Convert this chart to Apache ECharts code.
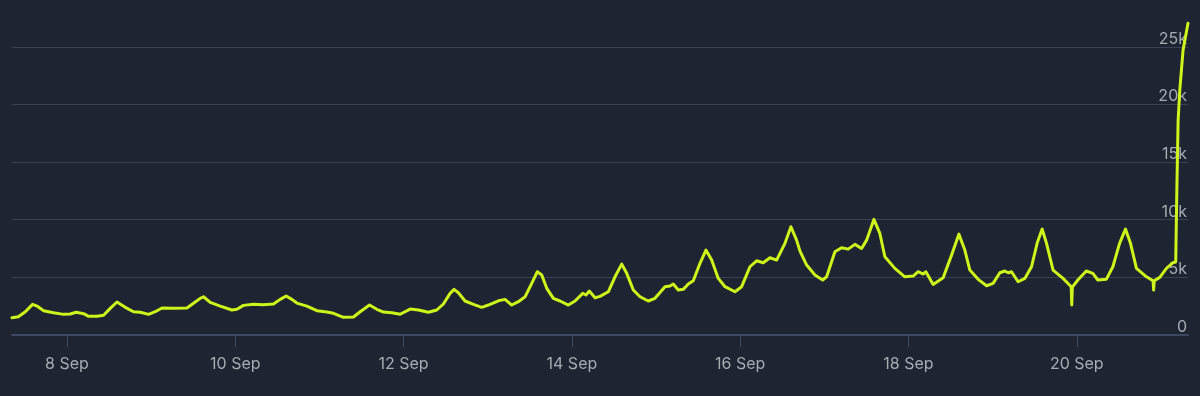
<!DOCTYPE html>
<html>
<head>
<meta charset="utf-8">
<script src="https://cdn.jsdelivr.net/npm/echarts@6/dist/echarts.min.js"></script>
<style>
html,body{margin:0;padding:0;background:#1e2432;}
#c{width:1200px;height:396px;}
</style>
</head>
<body>
<div id="c"></div>
<script>
// Timestamps (Sep 2024, "DD HH:MM") and player counts
const times = [
'07 08:19','07 10:07','07 12:07','07 14:11','07 15:27','07 17:20','07 20:11','07 23:02',
'08 00:56','08 02:39','08 04:44','08 06:10','08 08:33','08 10:26','08 12:20','08 14:15','08 16:37','08 18:59','08 20:54','08 23:16',
'09 01:10','09 03:05','09 06:23','09 10:13','09 12:05','09 14:00','09 14:56','09 16:51','09 19:42','09 23:02',
'10 00:28','10 02:20','10 05:11','10 08:02','10 10:53','10 12:48','10 14:31','10 16:08','10 17:34','10 20:25','10 23:16',
'11 02:07','11 04:00','11 06:51','11 09:42','11 11:37','11 14:16','11 16:22','11 18:15','11 20:39','11 23:01',
'12 01:52','12 04:14','12 07:05','12 09:28','12 11:21','12 13:16','12 14:24','12 15:38','12 17:32','12 19:55','12 22:18',
'13 00:11','13 03:02','13 04:56','13 06:51','13 08:44','13 10:39','13 12:33','13 14:09','13 15:24','13 16:50','13 18:43','13 20:37','13 22:59',
'14 00:54','14 03:05','14 04:02','14 04:58','14 06:36','14 08:01','14 10:23','14 12:18','14 14:13','14 15:38','14 17:31','14 19:26','14 21:47','14 23:42',
'15 02:33','15 03:59','15 04:55','15 06:20','15 07:46','15 09:12','15 10:37','15 12:32','15 14:14','15 15:52','15 17:45','15 19:40','15 22:31',
'16 00:25','16 02:47','16 04:41','16 06:34','16 08:29','16 10:23','16 12:46','16 14:28','16 16:05','16 17:02','16 18:57','16 21:19','16 23:31',
'17 00:39','17 03:01','17 04:55','17 06:48','17 08:43','17 10:37','17 12:03','17 14:08','17 15:50','17 17:16','17 20:07','17 22:58',
'18 01:20','18 02:46','18 04:11','18 04:58','18 07:02','18 09:53','18 12:17','18 14:22','18 16:04','18 17:30','18 19:52','18 22:16',
'19 00:08','19 02:03','19 03:28','19 04:25','19 05:23','19 07:16','19 09:11','19 11:05','19 12:41','19 14:07','19 15:22','19 17:14','19 20:05','19 22:24','19 22:34','19 22:44',
'20 00:18','20 02:42','20 04:35','20 06:00','20 08:25','20 10:17','20 12:12','20 13:53','20 15:19','20 17:01','20 19:52','20 21:45','20 21:55','20 22:05','20 23:40',
'21 01:34','21 03:27','21 04:13','21 04:30','21 04:54','21 05:22','21 06:18','21 07:43'
];
const players = [
1500,1590,2020,2660,2510,2110,1930,1790,
1820,1970,1850,1620,1620,1710,2310,2860,2400,2020,1970,1790,
2020,2340,2310,2340,2750,3180,3320,2830,2510,2170,
2230,2570,2660,2630,2690,3090,3380,3090,2770,2510,2110,
1990,1880,1530,1560,2020,2600,2230,1990,1930,1800,
2250,2170,1970,2170,2690,3610,3960,3670,2950,2660,2400,
2600,2970,3090,2600,2890,3320,4480,5490,5200,4050,3180,2950,2600,
2950,3610,3470,3810,3230,3350,3750,5050,6150,5350,3900,3320,2950,3180,
4190,4250,4420,3900,3960,4420,4710,6210,7370,6500,4910,4190,3750,
4190,5920,6440,6270,6700,6500,7950,9390,8230,7300,6070,5200,4770,
5050,7220,7570,7450,7860,7510,8230,10030,8810,6790,5780,5050,
5110,5490,5290,5490,4390,4970,6930,8750,7370,5630,4830,4270,
4480,5400,5550,5400,5490,4620,4910,5920,7950,9190,7950,5630,4910,4190,2600,4150,
4770,5550,5350,4770,4830,5920,7950,9190,7950,5780,5050,4710,3900,4700,5000,
5780,6270,6350,12000,18630,21230,24700,27040
];
const tickDates = ['2024-09-08','2024-09-10','2024-09-12','2024-09-14','2024-09-16','2024-09-18','2024-09-20'];
const yTicks = [0, 5000, 10000, 15000, 20000, 25000];
const monthNames = ['Jan','Feb','Mar','Apr','May','Jun','Jul','Aug','Sep','Oct','Nov','Dec'];

const toMs = s => new Date(s).getTime();
const data = times.map((t, i) => [toMs('2024-09-' + t.replace(' ', 'T') + ':00'), players[i]]);
const tickVals = tickDates.map(d => toMs(d + 'T00:00:00'));

const chart = echarts.init(document.getElementById('c'), null, {renderer: 'canvas'});
chart.setOption({
  backgroundColor: '#1e2432',
  animation: false,
  grid: {left: 12, right: 12, top: 18, bottom: 61, containLabel: false},
  xAxis: {
    type: 'value',
    min: 'dataMin',
    max: 'dataMax',
    scale: true,
    axisLine: {show: true, lineStyle: {color: '#3d4960', width: 2}},
    axisTick: {show: true, customValues: tickVals, length: 12, lineStyle: {color: '#3d4960', width: 1}},
    axisLabel: {
      customValues: tickVals,
      color: '#a6abb4',
      fontSize: 16,
      fontFamily: 'Inter, Roboto, sans-serif',
      margin: 21,
      formatter: v => { const d = new Date(v); return d.getDate() + ' ' + monthNames[d.getMonth()]; }
    },
    splitLine: {show: false}
  },
  yAxis: {
    type: 'value',
    position: 'right',
    min: 0,
    max: 27500,
    interval: 5000,
    axisLine: {show: false},
    axisTick: {show: false},
    axisLabel: {
      inside: true,
      margin: 1,
      color: '#a6abb4',
      fontSize: 16,
      fontFamily: 'Inter, Roboto, sans-serif',
      verticalAlign: 'bottom',
      showMaxLabel: false,
      formatter: v => yTicks.indexOf(v) < 0 ? '' : (v === 0 ? '0' : (v / 1000) + 'k')
    },
    splitLine: {show: true, showMaxLine: false, lineStyle: {color: '#3a4252', width: 1}}
  },
  series: [{
    type: 'line',
    data: data,
    showSymbol: false,
    symbol: 'none',
    smooth: false,
    lineStyle: {color: '#cdf51a', width: 3, join: 'round', cap: 'round'},
    z: 3
  }]
});
</script>
</body>
</html>
